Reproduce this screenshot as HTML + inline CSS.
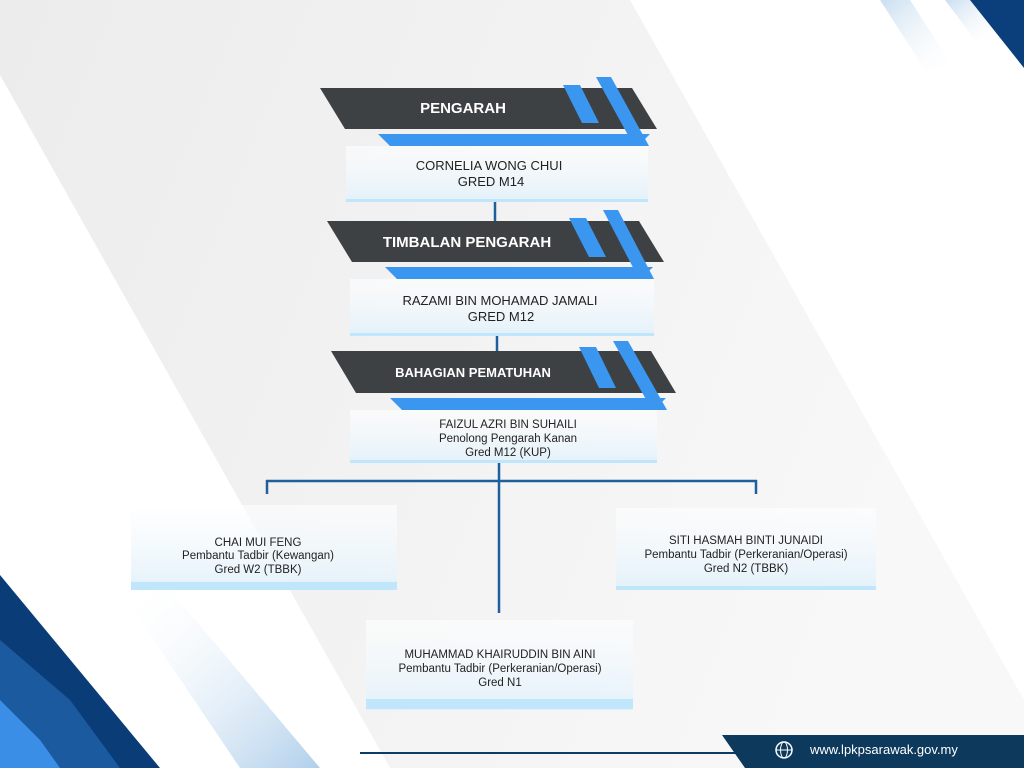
<!DOCTYPE html>
<html><head><meta charset="utf-8"><style>
body{margin:0;width:1024px;height:768px;overflow:hidden;font-family:"Liberation Sans",sans-serif;}
svg{display:block}
</style></head><body>
<svg width="1024" height="768" viewBox="0 0 1024 768" xmlns="http://www.w3.org/2000/svg">
<defs>
<linearGradient id="bx" x1="0" y1="0" x2="0" y2="1"><stop offset="0" stop-color="#ffffff" stop-opacity="0.6"/><stop offset="1" stop-color="#e3f1fa"/></linearGradient>
<linearGradient id="bg" x1="0" y1="0" x2="1" y2="0.3"><stop offset="0" stop-color="#ececec"/><stop offset="1" stop-color="#f8f8f8"/></linearGradient>
<linearGradient id="fade" x1="0" y1="0" x2="1" y2="1"><stop offset="0" stop-color="#c9def0"/><stop offset="1" stop-color="#ffffff" stop-opacity="0"/></linearGradient>
<linearGradient id="fade2" x1="1" y1="1" x2="0" y2="0"><stop offset="0" stop-color="#9cc3e6"/><stop offset="1" stop-color="#ffffff" stop-opacity="0"/></linearGradient>
</defs>
<rect width="1024" height="768" fill="#ffffff"/>
<polygon points="0,0 630,0 1024,700 1024,768 390,768 0,75" fill="url(#bg)"/>
<!-- top right stripes -->
<polygon points="880,0 910,0 955,70 925,70" fill="url(#fade)"/>
<polygon points="945,0 970,0 1000,40 975,40" fill="url(#fade)"/>
<polygon points="970,0 1024,0 1024,68" fill="#0a3f7c"/>
<!-- bottom left stripes -->
<polygon points="110,760 140,768 0,768" fill="#fff"/>
<polygon points="120,590 170,590 320,768 240,768" fill="url(#fade2)" opacity="0.8"/>
<polygon points="0,575 0,768 160,768" fill="#0a3c78"/>
<polygon points="0,640 70,700 120,768 60,768 0,700" fill="#1c5aa0"/>
<polygon points="0,700 40,740 60,768 0,768" fill="#3a8ee6"/>
<!-- bottom bar -->
<line x1="360" y1="753" x2="740" y2="753" stroke="#0d3b66" stroke-width="2"/>
<polygon points="722,735 1024,735 1024,768 745,768" fill="#0d3a5c"/>
<circle cx="784" cy="750" r="8" fill="none" stroke="#fff" stroke-width="1.5"/>
<line x1="776" y1="750" x2="792" y2="750" stroke="#fff" stroke-width="1"/>
<ellipse cx="784" cy="750" rx="3.5" ry="8" fill="none" stroke="#fff" stroke-width="1"/>
<text x="810" y="754" font-size="13" fill="#ffffff">www.lpkpsarawak.gov.my</text>

<!-- connectors -->
<g stroke="#1f5f9e" stroke-width="2.5" fill="none">
<line x1="495" y1="202" x2="495" y2="221"/>
<line x1="497" y1="336" x2="497" y2="351"/>
<line x1="499" y1="463" x2="499" y2="613"/>
<line x1="266" y1="481" x2="757" y2="481"/>
<line x1="267" y1="480" x2="267" y2="494"/>
<line x1="756" y1="480" x2="756" y2="494"/>
</g>

<!-- header 1 -->
<polygon points="320,88 632,88 657,129 345,129" fill="#3e4144"/>
<polygon points="378,134 650,134 638,146 390,146" fill="#3a96ee"/>
<polygon points="563,85 580,85 599,123 582,123" fill="#3a96ee"/>
<polygon points="596,77 611,77 649,146 634,146" fill="#3a96ee"/>
<text x="463" y="113" font-size="15" font-weight="bold" fill="#fff" text-anchor="middle">PENGARAH</text>
<rect x="346" y="146" width="302" height="56" fill="url(#bx)"/>
<rect x="346" y="199" width="302" height="3" fill="#bfe6fb"/>
<text x="489" y="170" font-size="13" fill="#222" text-anchor="middle">CORNELIA WONG CHUI</text>
<text x="491" y="186" font-size="13" fill="#222" text-anchor="middle">GRED M14</text>

<!-- header 2 -->
<polygon points="327,221 639,221 664,262 352,262" fill="#3e4144"/>
<polygon points="385,267 653,267 641,279 397,279" fill="#3a96ee"/>
<polygon points="569,218 586,218 606,257 589,257" fill="#3a96ee"/>
<polygon points="603,210 618,210 654,279 639,279" fill="#3a96ee"/>
<text x="467" y="247" font-size="15" font-weight="bold" fill="#fff" text-anchor="middle">TIMBALAN PENGARAH</text>
<rect x="350" y="279" width="304" height="57" fill="url(#bx)"/>
<rect x="350" y="333" width="304" height="3" fill="#bfe6fb"/>
<text x="500" y="305" font-size="13" fill="#222" text-anchor="middle">RAZAMI BIN MOHAMAD JAMALI</text>
<text x="501" y="321" font-size="13" fill="#222" text-anchor="middle">GRED M12</text>

<!-- header 3 -->
<polygon points="331,351 651,351 676,393 356,393" fill="#3e4144"/>
<polygon points="390,398 666,398 654,410 402,410" fill="#3a96ee"/>
<polygon points="579,347 596,347 616,388 599,388" fill="#3a96ee"/>
<polygon points="613,341 628,341 667,410 652,410" fill="#3a96ee"/>
<text x="473" y="377" font-size="13" font-weight="bold" fill="#fff" text-anchor="middle">BAHAGIAN PEMATUHAN</text>
<rect x="350" y="410" width="307" height="53" fill="url(#bx)"/>
<rect x="350" y="460" width="307" height="3" fill="#bfe6fb"/>
<g font-size="11.5" fill="#222" text-anchor="middle">
<text x="508" y="428">FAIZUL AZRI BIN SUHAILI</text>
<text x="508" y="442">Penolong Pengarah Kanan</text>
<text x="508" y="456">Gred M12 (KUP)</text>
</g>

<!-- leaves -->
<rect x="131" y="505" width="266" height="85" fill="url(#bx)"/>
<rect x="131" y="582" width="266" height="8" fill="#bfe6fb"/>
<rect x="616" y="508" width="260" height="82" fill="url(#bx)"/>
<rect x="616" y="586" width="260" height="4" fill="#bfe6fb"/>
<rect x="366" y="620" width="267" height="90" fill="url(#bx)"/>
<rect x="366" y="699" width="267" height="10" fill="#bfe6fb"/>
<g font-size="11.5" fill="#222" text-anchor="middle">
<text x="258" y="546">CHAI MUI FENG</text>
<text x="258" y="559">Pembantu Tadbir (Kewangan)</text>
<text x="258" y="573">Gred W2 (TBBK)</text>
<text x="746" y="544">SITI HASMAH BINTI JUNAIDI</text>
<text x="746" y="558">Pembantu Tadbir (Perkeranian/Operasi)</text>
<text x="746" y="572">Gred N2 (TBBK)</text>
<text x="500" y="658">MUHAMMAD KHAIRUDDIN BIN AINI</text>
<text x="500" y="672">Pembantu Tadbir (Perkeranian/Operasi)</text>
<text x="500" y="686">Gred N1</text>
</g>
</svg>
</body></html>
